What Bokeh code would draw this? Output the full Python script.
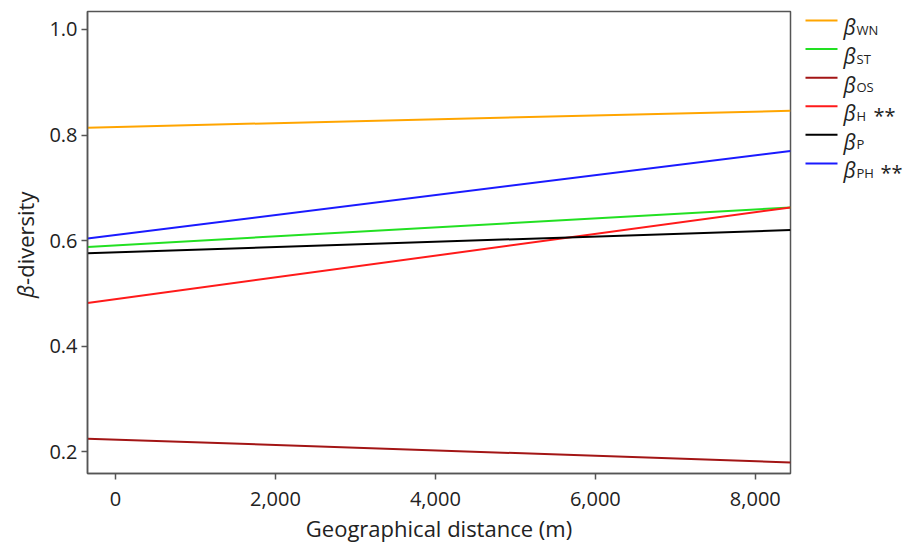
import math
from bokeh.plotting import figure
from bokeh.layouts import row
from bokeh.models import Range1d, FixedTicker, NumeralTickFormatter
from bokeh.core.properties import value
from bokeh.embed import file_html
from bokeh.resources import INLINE

# ---- data ----
distance = [-350, 8440]                      # fitted-line endpoints (m)
beta_WN = [0.814, 0.846]
beta_ST = [0.588, 0.663]
beta_OS = [0.225, 0.180]
beta_H = [0.482, 0.663]
beta_P = [0.576, 0.620]
beta_PH = [0.604, 0.770]
series_subscripts = ["WN", "ST", "OS", "H", "P", "PH"]
series_marks = ["", "", "", "**", "", "**"]
x_ticks = [0, 2000, 4000, 6000, 8000]
y_ticks = [0.2, 0.4, 0.6, 0.8, 1.0]
x_title = "Geographical distance (m)"

series = [beta_WN, beta_ST, beta_OS, beta_H, beta_P, beta_PH]
colors = ["#FFA500", "#22E022", "#A31515", "#FF1A1A", "#000000", "#1A1AFF"]
FONT = "Open Sans"
H = 545
TOP, BOT = 11, 71          # frame borders shared by all panels
TXT = "#222222"
AX = "#555555"

# ---- main plot ----
p = figure(width=748, height=H, x_range=Range1d(-350, 8440),
           y_range=Range1d(0.159, 1.034), output_backend="svg",
           toolbar_location=None, min_border_left=41, min_border_right=4,
           min_border_top=TOP, min_border_bottom=BOT)
for ys, c in zip(series, colors):
    p.line(distance, ys, line_color=c, line_width=2)

p.xgrid.visible = False
p.ygrid.visible = False
p.outline_line_color = AX
p.outline_line_width = 1.5

for ax in (p.xaxis[0], p.yaxis[0]):
    ax.axis_line_color = AX
    ax.axis_line_width = 1.5
    ax.major_tick_line_color = AX
    ax.major_tick_line_width = 1.5
    ax.major_tick_in = 0
    ax.major_tick_out = 6
    ax.minor_tick_line_color = None
    ax.major_label_text_font = FONT
    ax.major_label_text_font_size = "20px"
    ax.major_label_text_color = TXT
    ax.axis_label_text_font = FONT
    ax.axis_label_text_font_size = "22px"
    ax.axis_label_text_font_style = "normal"
    ax.axis_label_text_color = TXT

p.xaxis.ticker = FixedTicker(ticks=x_ticks)
p.xaxis.formatter = NumeralTickFormatter(format="0,0")
p.xaxis.axis_label = x_title
p.xaxis.major_label_standoff = 12
p.xaxis.axis_label_standoff = 4
p.yaxis.ticker = FixedTicker(ticks=y_ticks)
p.yaxis.formatter = NumeralTickFormatter(format="0.0")
p.yaxis.major_label_standoff = 4


def side_panel(width):
    f = figure(width=width, height=H, x_range=Range1d(0, width),
               y_range=Range1d(H - BOT, TOP), output_backend="svg",
               toolbar_location=None, min_border_left=0, min_border_right=0,
               min_border_top=TOP, min_border_bottom=BOT)
    f.axis.visible = False
    f.grid.visible = False
    f.outline_line_color = None
    return f


# ---- y-axis title (italic beta) ----
yl = side_panel(46)
yl.text(x=[24], y=[298], text=["β"], angle=math.pi / 2,
        text_font=value(FONT), text_font_size="22px", text_font_style="italic",
        text_align="left", text_baseline="middle", text_color=TXT)
yl.text(x=[24], y=[285], text=["-diversity"], angle=math.pi / 2,
        text_font=value(FONT), text_font_size="22px",
        text_align="left", text_baseline="middle", text_color=TXT)

# ---- legend ----
lg = side_panel(118)
row_y = [20 + i * 28.65 for i in range(len(series))]
star_x = [0, 0, 0, 79, 0, 86]
lg.segment(x0=[11] * len(row_y), x1=[43] * len(row_y), y0=row_y, y1=row_y,
           line_color=colors, line_width=2)
lg.text(x=[49] * len(row_y), y=[v + 7 for v in row_y], text=["β"] * len(row_y),
        text_font=value(FONT), text_font_size="21px", text_font_style="italic",
        text_baseline="alphabetic", text_color=TXT)
lg.text(x=[62] * len(row_y), y=[v + 9.5 for v in row_y], text=series_subscripts,
        text_font=value(FONT), text_font_size="13px",
        text_baseline="alphabetic", text_color=TXT)
sx = [star_x[i] for i in range(len(row_y)) if series_marks[i]]
sy = [row_y[i] + 9 for i in range(len(row_y)) if series_marks[i]]
st = [m for m in series_marks if m]
lg.text(x=sx, y=sy, text=st, text_font=value(FONT), text_font_size="20px",
        text_baseline="alphabetic", text_color=TXT)

layout = row(yl, p, lg)
open("out.html", "w").write(file_html(layout, INLINE))
